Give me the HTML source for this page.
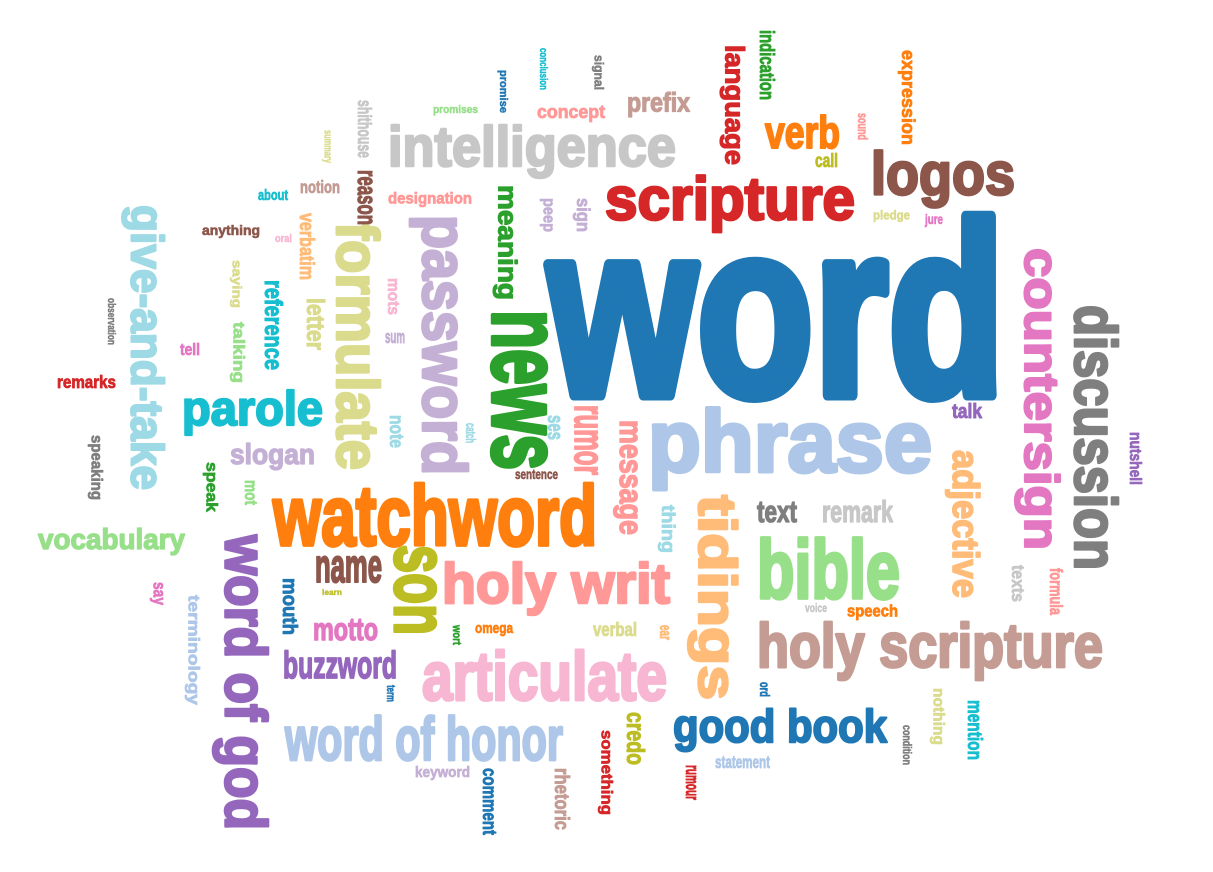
<!DOCTYPE html>
<html><head><meta charset="utf-8"><style>
html,body{margin:0;padding:0;background:#fff;}
svg{display:block;}
text{font-family:"Liberation Sans Narrow","Liberation Sans",sans-serif;font-weight:bold;}
</style></head><body>
<svg id="cloud" width="1213" height="872" viewBox="0 0 1213 872"></svg>
<script>
// words and their bounding boxes: [text, x0, y0, x1, y1, rotated, color]
const words = [
["word",548,215,1005,395,0,"#1f77b4"],
["phrase",648,408,932,490,0,"#aec7e8"],
["intelligence",388,125,676,178,0,"#c7c7c7"],
["scripture",605,175,855,232,0,"#d62728"],
["logos",871,150,1015,207,0,"#8c564b"],
["verb",765,115,840,148,0,"#ff7f0e"],
["prefix",627,92,690,117,0,"#c49c94"],
["concept",537,105,605,122,0,"#ff9896"],
["language",720,45,745,165,1,"#d62728"],
["indication",760,30,775,100,1,"#2ca02c"],
["expression",898,50,915,145,1,"#ff7f0e"],
["sound",858,113,868,140,1,"#ff9896"],
["call",815,153,838,167,0,"#bcbd22"],
["pledge",873,210,910,222,0,"#dbdb8d"],
["jure",925,217,943,227,0,"#e377c2"],
["countersign",1015,248,1060,550,1,"#e377c2"],
["discussion",1075,305,1118,570,1,"#7f7f7f"],
["talk",952,403,982,418,0,"#9467bd"],
["nutshell",1130,432,1142,485,1,"#9467bd"],
["adjective",945,450,980,598,1,"#ffbb78"],
["remark",822,500,893,522,0,"#c7c7c7"],
["text",757,500,797,522,0,"#7f7f7f"],
["bible",757,538,900,598,0,"#98df8a"],
["speech",847,604,898,620,0,"#ff7f0e"],
["voice",805,603,827,612,0,"#c7c7c7"],
["texts",1012,565,1025,602,1,"#c7c7c7"],
["formula",1050,568,1063,615,1,"#ff9896"],
["holy scripture",757,622,1103,680,0,"#c49c94"],
["ord",760,682,770,697,1,"#1f77b4"],
["nothing",930,688,945,745,1,"#dbdb8d"],
["mention",968,700,983,760,1,"#17becf"],
["condition",903,725,912,765,1,"#7f7f7f"],
["good book",673,708,887,752,0,"#1f77b4"],
["statement",715,755,770,768,0,"#aec7e8"],
["rumour",686,765,696,800,1,"#d62728"],
["tidings",688,495,738,700,1,"#ffbb78"],
["thing",658,505,675,553,1,"#9edae5"],
["message",613,420,637,535,1,"#ff9896"],
["rumor",575,405,597,475,1,"#ff9896"],
["ses",548,415,560,440,1,"#9edae5"],
["sentence",515,469,558,479,0,"#8c564b"],
["catch",466,423,476,443,1,"#9edae5"],
["news",493,310,545,470,1,"#2ca02c"],
["meaning",493,185,517,300,1,"#2ca02c"],
["peep",540,198,552,232,1,"#c5b0d5"],
["sign",573,198,590,232,1,"#c5b0d5"],
["password",410,215,468,475,1,"#c5b0d5"],
["designation",388,192,472,207,0,"#ff9896"],
["formulate",337,222,380,470,1,"#dbdb8d"],
["reason",358,170,372,225,1,"#8c564b"],
["shithouse",358,100,372,158,1,"#c7c7c7"],
["notion",300,180,340,193,0,"#c49c94"],
["summary",322,130,330,163,1,"#dbdb8d"],
["about",258,189,288,200,0,"#17becf"],
["anything",202,225,260,238,0,"#8c564b"],
["oral",275,234,292,242,0,"#f7b6d2"],
["verbatim",300,213,315,280,1,"#ffbb78"],
["saying",230,260,242,308,1,"#dbdb8d"],
["reference",265,280,283,370,1,"#17becf"],
["letter",307,298,325,350,1,"#dbdb8d"],
["talking",230,322,245,383,1,"#98df8a"],
["tell",180,343,200,355,0,"#e377c2"],
["remarks",57,375,116,388,0,"#d62728"],
["give-and-take",122,205,165,490,1,"#9edae5"],
["speaking",88,435,103,500,1,"#7f7f7f"],
["speak",203,462,218,512,1,"#2ca02c"],
["mot",245,480,258,505,1,"#98df8a"],
["parole",182,390,323,435,0,"#17becf"],
["slogan",230,443,315,470,0,"#c5b0d5"],
["mots",388,278,400,315,1,"#f7b6d2"],
["sum",385,333,405,343,0,"#c5b0d5"],
["note",390,415,404,448,1,"#9edae5"],
["watchword",273,483,597,545,0,"#ff7f0e"],
["vocabulary",38,528,185,555,0,"#98df8a"],
["word of god",213,535,268,830,1,"#9467bd"],
["son",395,545,435,635,1,"#bcbd22"],
["name",315,557,382,582,0,"#8c564b"],
["learn",322,589,342,595,0,"#bcbd22"],
["mouth",283,578,298,635,1,"#1f77b4"],
["motto",313,617,378,640,0,"#e377c2"],
["buzzword",283,650,397,678,0,"#9467bd"],
["holy writ",442,562,670,615,0,"#ff9896"],
["verbal",593,622,637,636,0,"#dbdb8d"],
["omega",475,625,513,636,0,"#ff7f0e"],
["wort",453,625,462,645,1,"#2ca02c"],
["ear",660,625,669,640,1,"#ffbb78"],
["articulate",422,650,667,700,0,"#f7b6d2"],
["term",387,685,396,702,1,"#1f77b4"],
["word of honor",285,715,563,760,0,"#aec7e8"],
["keyword",415,766,470,780,0,"#c5b0d5"],
["comment",483,768,497,835,1,"#1f77b4"],
["rhetoric",555,768,570,830,1,"#c49c94"],
["something",598,730,613,815,1,"#d62728"],
["credo",627,712,645,765,1,"#bcbd22"],
["terminology",185,595,200,705,1,"#aec7e8"],
["say",150,582,163,605,1,"#e377c2"],
["observation",108,298,116,345,1,"#7f7f7f"],
["promises",433,105,478,115,0,"#98df8a"],
["promise",498,70,508,113,1,"#1f77b4"],
["conclusion",540,48,548,90,1,"#17becf"],
["signal",592,55,604,90,1,"#7f7f7f"]
];
const ASC=0.73, XH=0.53, DESC=0.21;
const svg=document.getElementById('cloud');
const NS='http://www.w3.org/2000/svg';
for(const w of words){
  const [t,x0,y0,x1,y1,rot,col]=w;
  const hasAsc=/[bdfhklti]/.test(t);
  const hasDesc=/[gjpqy]/.test(t);
  const up=hasAsc?ASC:XH, dn=hasDesc?DESC:0;
  const thick=rot?(x1-x0):(y1-y0);
  const len=rot?(y1-y0):(x1-x0);
  const fs=thick/(up+dn);
  const el=document.createElementNS(NS,'text');
  
  
  el.setAttribute('font-size',fs.toFixed(1));
  el.setAttribute('fill',col);
  el.setAttribute('stroke',col);
  el.setAttribute('stroke-width',(fs*0.045).toFixed(2));
  el.setAttribute('stroke-linejoin','round');
  el.setAttribute('textLength',len);
  el.setAttribute('lengthAdjust','spacingAndGlyphs');
  if(rot){
    const bx=x0+dn*fs;
    el.setAttribute('transform','translate('+bx+','+y0+') rotate(90)');
    el.setAttribute('x',0);el.setAttribute('y',0);
  }else{
    el.setAttribute('x',x0);
    el.setAttribute('y',y0+up*fs);
  }
  el.textContent=t;
  svg.appendChild(el);
}
</script>
</body></html>
